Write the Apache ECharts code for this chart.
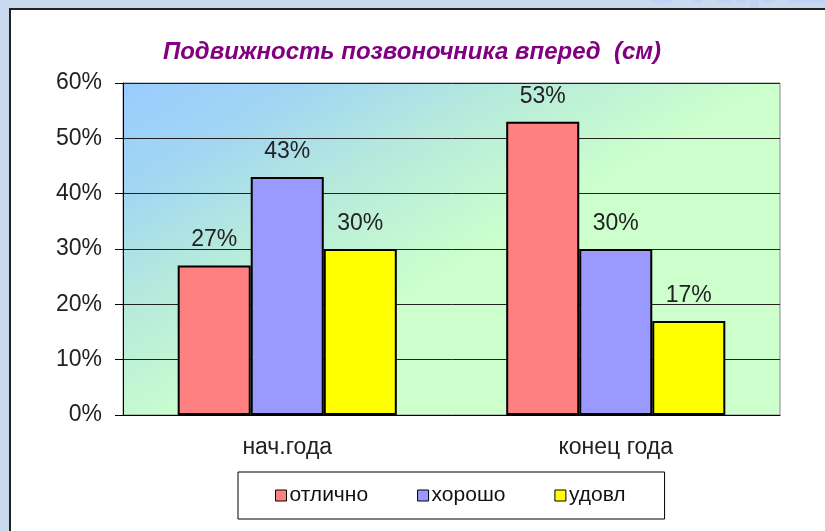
<!DOCTYPE html>
<html>
<head>
<meta charset="utf-8">
<script src="https://cdn.jsdelivr.net/npm/echarts@6/dist/echarts.min.js"></script>
<style>
html,body{margin:0;padding:0;background:#c9d9ee;}
#c{width:825px;height:531px;}
</style>
</head>
<body>
<div id="c"></div>
<script>
const categories = ['нач.года', 'конец года'];
const seriesNames = ['отлично', 'хорошо', 'удовл'];
const valuesExcellent = [27, 53];
const valuesGood = [43, 30];
const valuesSatisfactory = [30, 17];
const yTicks = [0, 10, 20, 30, 40, 50, 60];
const titleText = 'Подвижность позвоночника вперед  (см)';
const colors = ['#ff8080', '#9999ff', '#ffff00'];

const chart = echarts.init(document.getElementById('c'), null, {renderer: 'canvas'});
const FONT = 'Liberation Sans, Arial, sans-serif';
const seriesData = [valuesExcellent, valuesGood, valuesSatisfactory];

chart.setOption({
  backgroundColor: '#c9d9ee',
  animation: false,
  graphic: [
    {type: 'text', left: 640, top: -44, z: -20, zlevel: 0, style: {text: 'Старшая группа', font: 'bold 60px Liberation Sans, Arial', fill: '#c0d3f4'}},
    {type: 'rect', shape: {x: 10, y: 9, width: 830, height: 540}, z: -10, zlevel: 0, style: {fill: '#ffffff', stroke: '#222', lineWidth: 2}}
  ],
  title: {
    text: titleText,
    left: 407, top: 35, textAlign: 'center',
    textStyle: {fontFamily: FONT, fontSize: 24, fontWeight: 'bold', fontStyle: 'italic', color: '#800080'}
  },
  legend: {
    data: seriesNames,
    left: 238, top: 472,
    padding: [13, 39, 13, 37],
    borderColor: '#000', borderWidth: 1,
    itemGap: 49, itemWidth: 11, itemHeight: 11,
    icon: 'rect',
    itemStyle: {borderColor: '#000', borderWidth: 1},
    textStyle: {fontFamily: FONT, fontSize: 21, color: '#111', padding: [0, 0, 0, -2]}
  },
  grid: {
    left: 123, right: 45, top: 83, bottom: 116,
    show: true,
    borderColor: '#888', borderWidth: 1,
    backgroundColor: new echarts.graphic.LinearGradient(0, 0, 0.25, 0.85, [
      {offset: 0, color: '#99ccff'},
      {offset: 0.3, color: '#a2d6f2'},
      {offset: 0.6, color: '#b6eadc'},
      {offset: 1, color: '#ccffcc'}
    ])
  },
  xAxis: {
    type: 'category', data: categories,
    axisLine: {lineStyle: {color: '#000', width: 1}},
    axisTick: {length: 9, lineStyle: {color: '#000'}},
    axisLabel: {fontFamily: FONT, fontSize: 23, color: '#222', margin: 21}
  },
  yAxis: {
    type: 'value', min: yTicks[0], max: yTicks[yTicks.length - 1], interval: 10,
    axisLine: {show: true, lineStyle: {color: '#000', width: 1}},
    axisTick: {show: true, length: 8, lineStyle: {color: '#000'}},
    splitLine: {lineStyle: {color: '#222', width: 1}},
    axisLabel: {fontFamily: FONT, fontSize: 23, color: '#222', margin: 21, formatter: '{value}%'}
  },
  series: seriesNames.map((name, i) => ({
    name: name, type: 'bar', data: seriesData[i],
    barGap: '0%', barCategoryGap: '33.3%',
    itemStyle: {color: colors[i], borderColor: '#000', borderWidth: 2},
    label: {show: true, position: 'top', distance: 14, formatter: '{c}%', fontFamily: FONT, fontSize: 23, color: '#222'}
  }))
});
</script>
</body>
</html>
